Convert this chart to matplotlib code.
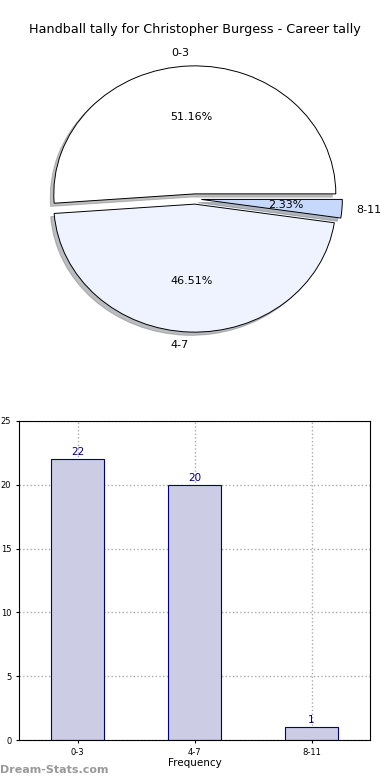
import matplotlib
matplotlib.use("Agg")
import matplotlib.pyplot as plt

title = "Handball tally for Christopher Burgess - Career tally"
categories = ["0-3", "4-7", "8-11"]
counts = [22, 20, 1]
pie_colors = ["#ffffff", "#eef3ff", "#c6d9fd"]
bar_face = "#ccccE4"
bar_edge = "#000080"
xlabel = "Frequency"
ylabel = "Number of Games"
watermark = "Dream-Stats.com"

fig = plt.figure(figsize=(3.9, 7.8), dpi=100)

fig.text(0.5, 1 - 30 / 780, title, ha="center", va="center", fontsize=9.2)

# Pie axes
axp = fig.add_axes([0, 1 - 360 / 780, 1, 320 / 780])
wedges, texts, autotexts = axp.pie(
    counts, labels=categories, colors=pie_colors, startangle=0,
    explode=[0.04, 0.04, 0.045],
    shadow={"ox": -0.018, "oy": -0.018, "shade": 0.5},
    autopct="%.2f%%",
    pctdistance=0.6, labeldistance=1.1,
    wedgeprops=dict(edgecolor="black", linewidth=0.7),
    textprops=dict(fontsize=8))
axp.set_aspect("auto")
xr = 195 / 141
axp.set_xlim(-xr, xr)
axp.set_ylim(-(360 - 199) / 128, (199 - 40) / 128)
axp.axis("off")

# Bar axes
axb = fig.add_axes([19 / 390, 40 / 780, 351 / 390, 319 / 780])
x = [i + 0.5 for i in range(len(categories))]
bars = axb.bar(x, counts, width=0.45, color=bar_face, edgecolor=bar_edge, linewidth=0.8, zorder=2)
for xi, c in zip(x, counts):
    axb.text(xi, c + 0.15, str(c), ha="center", va="bottom", color=bar_edge, fontsize=7.5)
axb.set_xlim(0, 3)
axb.set_ylim(0, 25)
axb.set_xticks(x)
axb.set_xticklabels(categories)
axb.set_yticks([0, 5, 10, 15, 20, 25])
axb.tick_params(labelsize=6, length=2)
axb.grid(True, linestyle=":", color="#aaaaaa", linewidth=1, zorder=0)
axb.set_axisbelow(True)
axb.set_xlabel(xlabel, fontsize=7.5, labelpad=1)
axb.set_ylabel(ylabel, fontsize=7.5, labelpad=3)

fig.text(0.0, 1 - 770 / 780, watermark, ha="left", va="center", fontsize=8,
         color="#999999", fontweight="semibold")

fig.savefig("out.png", dpi=100)
